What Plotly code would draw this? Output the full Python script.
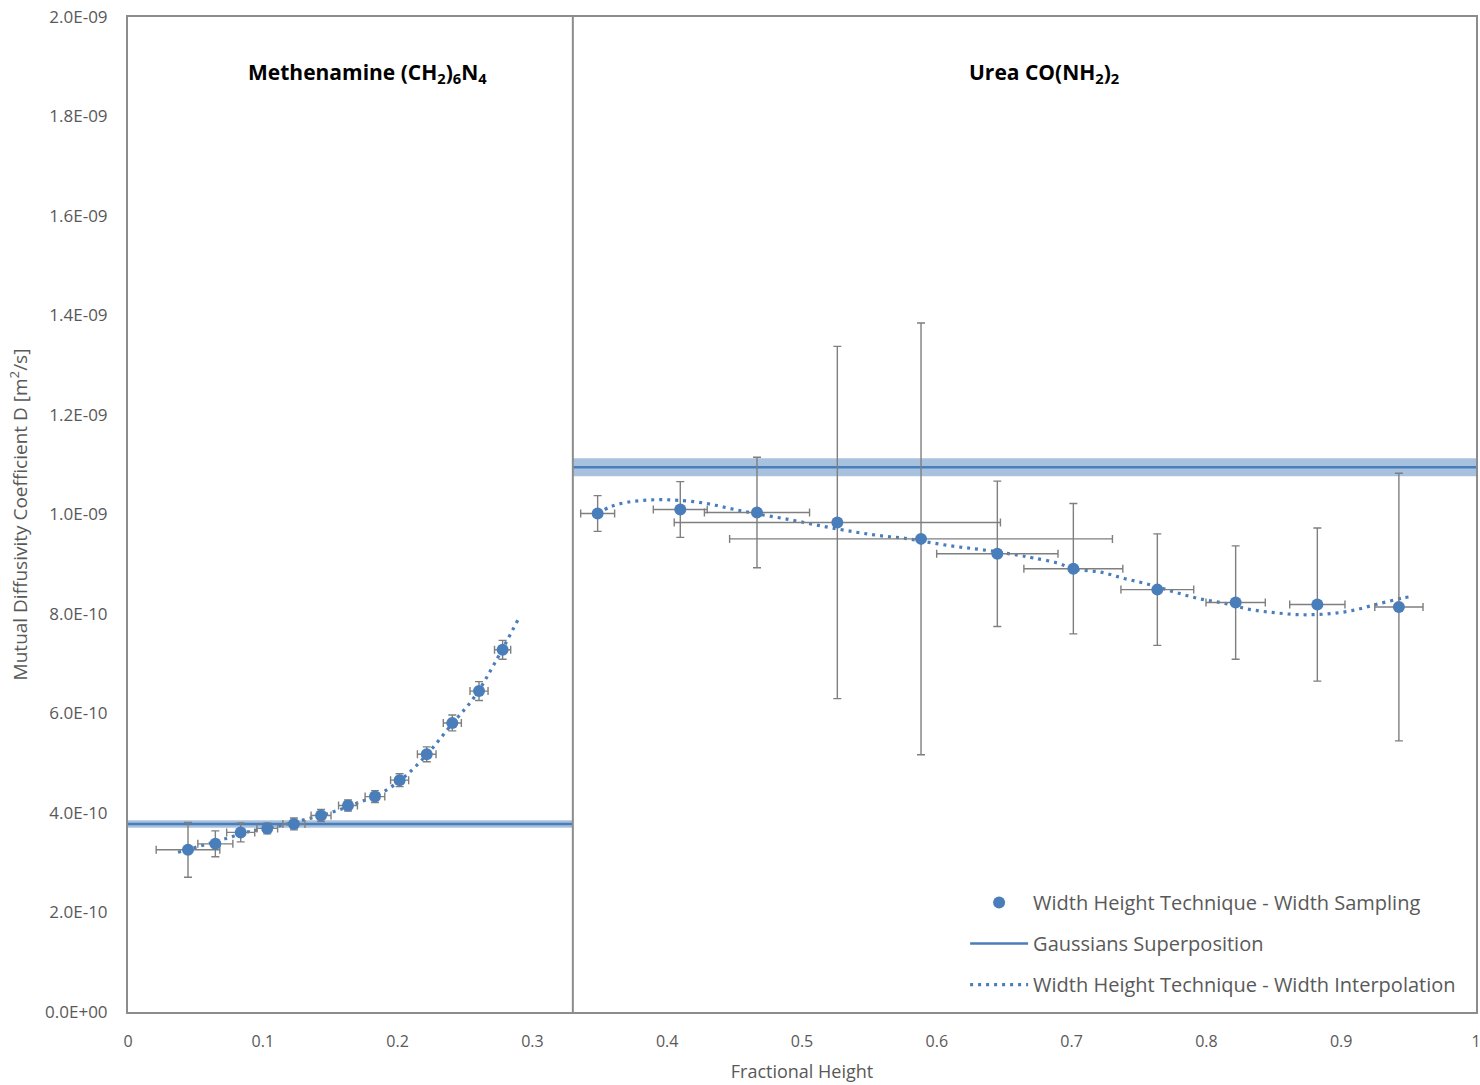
import plotly.graph_objects as go

# ---- Methenamine (CH2)6N4 : width-height technique, width sampling ----
meth_x = [0.0445, 0.0648, 0.0836, 0.1033, 0.1231, 0.1432, 0.1632, 0.1832, 0.2015, 0.2216, 0.2406, 0.2604, 0.2779]
meth_d = [3.26e-10, 3.38e-10, 3.61e-10, 3.69e-10, 3.78e-10, 3.95e-10, 4.15e-10, 4.33e-10, 4.66e-10, 5.18e-10, 5.81e-10, 6.45e-10, 7.28e-10]
meth_dx = [0.0236, 0.013, 0.0104, 0.0077, 0.0082, 0.0074, 0.007, 0.0073, 0.0067, 0.0069, 0.0067, 0.0067, 0.006]
meth_dd = [0.55e-10, 0.26e-10, 0.19e-10, 0.11e-10, 0.12e-10, 0.12e-10, 0.11e-10, 0.12e-10, 0.13e-10, 0.15e-10, 0.16e-10, 0.19e-10, 0.19e-10]

# width interpolation curve
meth_curve_x = [0.0371, 0.0568, 0.0742, 0.089, 0.1088, 0.1286, 0.1484, 0.1682, 0.1879, 0.2052, 0.2225, 0.2398, 0.2572, 0.272, 0.2898]
meth_curve_d = [3.21e-10, 3.36e-10, 3.50e-10, 3.62e-10, 3.72e-10, 3.85e-10, 3.99e-10, 4.18e-10, 4.40e-10, 4.73e-10, 5.20e-10, 5.77e-10, 6.34e-10, 7.01e-10, 7.91e-10]

# ---- Urea CO(NH2)2 ----
urea_x = [0.3484, 0.4097, 0.4666, 0.5262, 0.5883, 0.6449, 0.7013, 0.7636, 0.8217, 0.8823, 0.9428]
urea_d = [1.002e-9, 1.010e-9, 1.004e-9, 0.984e-9, 0.951e-9, 0.921e-9, 0.891e-9, 0.849e-9, 0.823e-9, 0.819e-9, 0.814e-9]
urea_dx = [0.0126, 0.020, 0.039, 0.121, 0.142, 0.045, 0.0367, 0.027, 0.022, 0.0205, 0.0179]
urea_dd = [0.036e-9, 0.056e-9, 0.111e-9, 0.354e-9, 0.434e-9, 0.146e-9, 0.131e-9, 0.112e-9, 0.114e-9, 0.154e-9, 0.269e-9]

urea_curve_x = [0.3484, 0.358, 0.370, 0.3828, 0.395, 0.4082, 0.4273, 0.446, 0.4644, 0.4896, 0.5145, 0.5393,
                0.5579, 0.5764, 0.5954, 0.6147, 0.6335, 0.6592, 0.6716, 0.6902, 0.7013, 0.7211, 0.7396,
                0.7582, 0.7762, 0.7946, 0.8133, 0.8318, 0.8507, 0.8694, 0.8887, 0.9077, 0.9263, 0.9448, 0.9515]
urea_curve_d = [1.002e-9, 1.0157e-9, 1.0245e-9, 1.0285e-9, 1.0298e-9, 1.0285e-9, 1.0231e-9, 1.0124e-9, 1.0024e-9,
                0.9903e-9, 0.9769e-9, 0.9648e-9, 0.9574e-9, 0.9521e-9, 0.9434e-9, 0.9353e-9, 0.9293e-9, 0.9186e-9,
                0.9126e-9, 0.9019e-9, 0.8905e-9, 0.8844e-9, 0.871e-9, 0.8589e-9, 0.8442e-9, 0.8308e-9, 0.8215e-9,
                0.8094e-9, 0.8026e-9, 0.7986e-9, 0.800e-9, 0.8067e-9, 0.8195e-9, 0.8316e-9, 0.8348e-9]

# ---- Gaussians superposition (value and uncertainty band) ----
split_x = 0.33
gauss_meth = 3.78e-10
gauss_meth_err = 0.075e-10
gauss_urea = 1.095e-9
gauss_urea_err = 0.018e-9

# axis ticks
y_ticks = [0, 2e-10, 4e-10, 6e-10, 8e-10, 1e-9, 1.2e-9, 1.4e-9, 1.6e-9, 1.8e-9, 2e-9]
y_tick_text = ["0.0E+00", "2.0E-10", "4.0E-10", "6.0E-10", "8.0E-10", "1.0E-09",
               "1.2E-09", "1.4E-09", "1.6E-09", "1.8E-09", "2.0E-09"]
x_ticks = [0, 0.1, 0.2, 0.3, 0.4, 0.5, 0.6, 0.7, 0.8, 0.9, 1]
x_tick_text = ["0", "0.1", "0.2", "0.3", "0.4", "0.5", "0.6", "0.7", "0.8", "0.9", "1"]

BLUE = "#4a7ebb"
BAND = "rgba(74,126,187,0.48)"
ERR = "#7f7f7f"
TXT = "#595959"
FONT = "Open Sans"

fig = go.Figure()

# uncertainty bands of the Gaussians superposition
for x0, x1, c, e in [(0, split_x, gauss_meth, gauss_meth_err), (split_x, 1, gauss_urea, gauss_urea_err)]:
    fig.add_trace(go.Scatter(
        x=[x0, x1, x1, x0, x0], y=[c - e, c - e, c + e, c + e, c - e],
        mode="lines", fill="toself", fillcolor=BAND, line=dict(width=0),
        showlegend=False, hoverinfo="skip"))

# Gaussians superposition lines
fig.add_trace(go.Scatter(
    x=[0, split_x, None, split_x, 1], y=[gauss_meth, gauss_meth, None, gauss_urea, gauss_urea],
    mode="lines", line=dict(color=BLUE, width=2.5),
    name="Gaussians Superposition", legendgroup="gauss", legendrank=2))

# width interpolation curves
for i, (cx, cy) in enumerate([(meth_curve_x, meth_curve_d), (urea_curve_x, urea_curve_d)]):
    fig.add_trace(go.Scatter(
        x=cx, y=cy, mode="lines", line=dict(color=BLUE, width=3.2, dash="3px,5px", shape="spline"),
        name="Width Height Technique - Width Interpolation", legendgroup="interp",
        showlegend=(i == 0), legendrank=3))

# width sampling points with error bars
for i, (px, py, ex, ey) in enumerate([(meth_x, meth_d, meth_dx, meth_dd), (urea_x, urea_d, urea_dx, urea_dd)]):
    fig.add_trace(go.Scatter(
        x=px, y=py, mode="markers",
        marker=dict(color=BLUE, size=12),
        error_x=dict(type="data", array=ex, color=ERR, thickness=1.4, width=4),
        error_y=dict(type="data", array=ey, color=ERR, thickness=1.4, width=4),
        name="Width Height Technique - Width Sampling", legendgroup="samp",
        showlegend=(i == 0), legendrank=1))

# divider between the two substances
fig.add_shape(type="line", xref="x", yref="paper", x0=split_x, x1=split_x, y0=0, y1=1,
              line=dict(color="#8c8c8c", width=2))

fig.add_annotation(x=0.1773, y=0.944, xref="paper", yref="paper", showarrow=False,
                   xanchor="center", yanchor="middle",
                   text="<b>Methenamine (CH<sub>2</sub>)<sub>6</sub>N<sub>4</sub></b>",
                   font=dict(family=FONT, size=21, color="#000000"))
fig.add_annotation(x=0.6795, y=0.944, xref="paper", yref="paper", showarrow=False,
                   xanchor="center", yanchor="middle",
                   text="<b>Urea CO(NH<sub>2</sub>)<sub>2</sub></b>",
                   font=dict(family=FONT, size=21, color="#000000"))

fig.update_layout(
    width=1480, height=1085,
    margin=dict(l=128, r=4, t=17, b=73, autoexpand=False),
    paper_bgcolor="white", plot_bgcolor="white",
    font=dict(family=FONT, color=TXT),
    showlegend=True,
    legend=dict(x=0.621, y=0.008, xanchor="left", yanchor="bottom",
                bgcolor="rgba(255,255,255,0)", font=dict(family=FONT, size=20, color=TXT),
                itemwidth=58, tracegroupgap=12, traceorder="grouped"),
    xaxis=dict(range=[0, 1], tickvals=x_ticks, ticktext=x_tick_text, showgrid=False,
               zeroline=False, showline=True, mirror=True, linecolor="#8c8c8c", linewidth=2,
               ticks="", ticklabelstandoff=14, tickfont=dict(size=16, color=TXT), automargin=False,
               ticklabeloverflow="allow",
               title=dict(text="Fractional Height", font=dict(size=18, color=TXT), standoff=14)),
    yaxis=dict(range=[0, 2e-9], tickvals=y_ticks, ticktext=y_tick_text, showgrid=False,
               zeroline=False, showline=True, mirror=True, linecolor="#8c8c8c", linewidth=2,
               ticks="", ticklabelstandoff=15, tickfont=dict(size=17, color=TXT), automargin=False,
               ticklabeloverflow="allow",
               title=dict(text="Mutual Diffusivity Coefficient D [m<sup>2</sup>/s]",
                          font=dict(size=19, color=TXT), standoff=12)),
)

fig.write_html("out.html")
